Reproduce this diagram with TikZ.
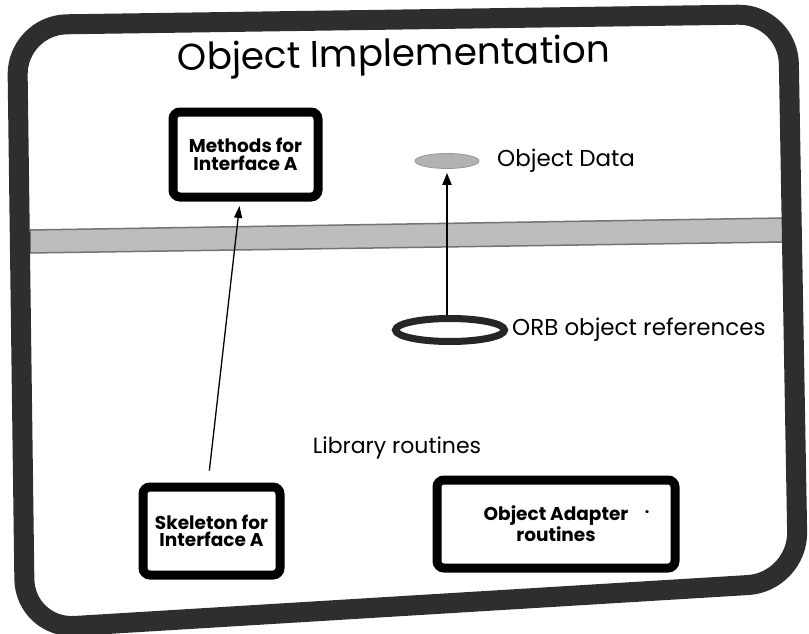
\documentclass[tikz,border=0pt]{standalone}
\usepackage{fontspec}
\setmainfont{Poppins}
\usetikzlibrary{arrows.meta,shapes.geometric}
\begin{document}
\begin{tikzpicture}[x=1pt,y=-1pt,
  frame/.style={draw=black!82, line width=20pt, rounded corners=50pt, line join=round},
  band/.style={fill=gray!52, draw=black!55, line width=1.5pt},
  boxnode/.style={draw=black, line width=9pt, rounded corners=7pt, fill=white,
    inner sep=0pt, align=center, font=\bfseries\fontsize{18.5}{17.5}\selectfont},
  lbl/.style={inner sep=0pt, font=\fontsize{23}{25}\selectfont},
  arrowthin/.style={-{Triangle[length=12pt,width=8pt]}, line width=1.3pt},
  arrowthick/.style={-{Triangle[length=12pt,width=9pt]}, line width=2pt}]
\useasboundingbox (0,0) rectangle (809,634);

% grey band separating the upper and lower parts
\fill[band] (30,230) -- (784,218) -- (784,242) -- (30,253) -- cycle;

% title
\node[inner sep=0pt, rotate=1, font=\fontsize{37.3}{40}\selectfont] (title) at (394,57) {Object Implementation};

% boxes
\node[boxnode, minimum width=145pt, minimum height=85pt] (meth) at (245.5,154.5) {Methods for\\Interface A};
\node[boxnode, minimum width=137pt, minimum height=88pt] (skel) at (211.5,531) {Skeleton for\\Interface A};
\node[boxnode, minimum width=238pt, minimum height=88pt] (adapt) at (556,524) {Object Adapter\\routines};
\node[inner sep=0pt, font=\bfseries\fontsize{16}{16}\selectfont] (dot) at (647,512) {.};

% ellipses
\node[ellipse, fill=gray!60, draw=gray!80, line width=0.8pt, minimum width=64pt, minimum height=15pt, inner sep=0pt] (data) at (447,161) {};
\node[ellipse, draw=black!85, line width=7pt, minimum width=109pt, minimum height=23pt, inner sep=0pt] (orb) at (450,330) {};

% labels
\node[lbl, anchor=west] (datalbl) at (497,161) {Object Data};
\node[lbl, anchor=west] (orblbl) at (512,330) {ORB object references};
\node[lbl, font=\fontsize{22}{24}\selectfont] (lib) at (397,448) {Library routines};

% connectors
\draw[arrowthick, shorten >=4pt] (data.south |- orb.north) -- (data.south);
\draw[arrowthin, shorten <=12pt, shorten >=4.5pt] ([xshift=-3.5pt]skel.north) -- ([xshift=-5.5pt]meth.south);

% outer frame
\draw[frame] (17,25) -- (788,14) -- (798,582) -- (25,629) -- cycle;
\end{tikzpicture}
\end{document}
